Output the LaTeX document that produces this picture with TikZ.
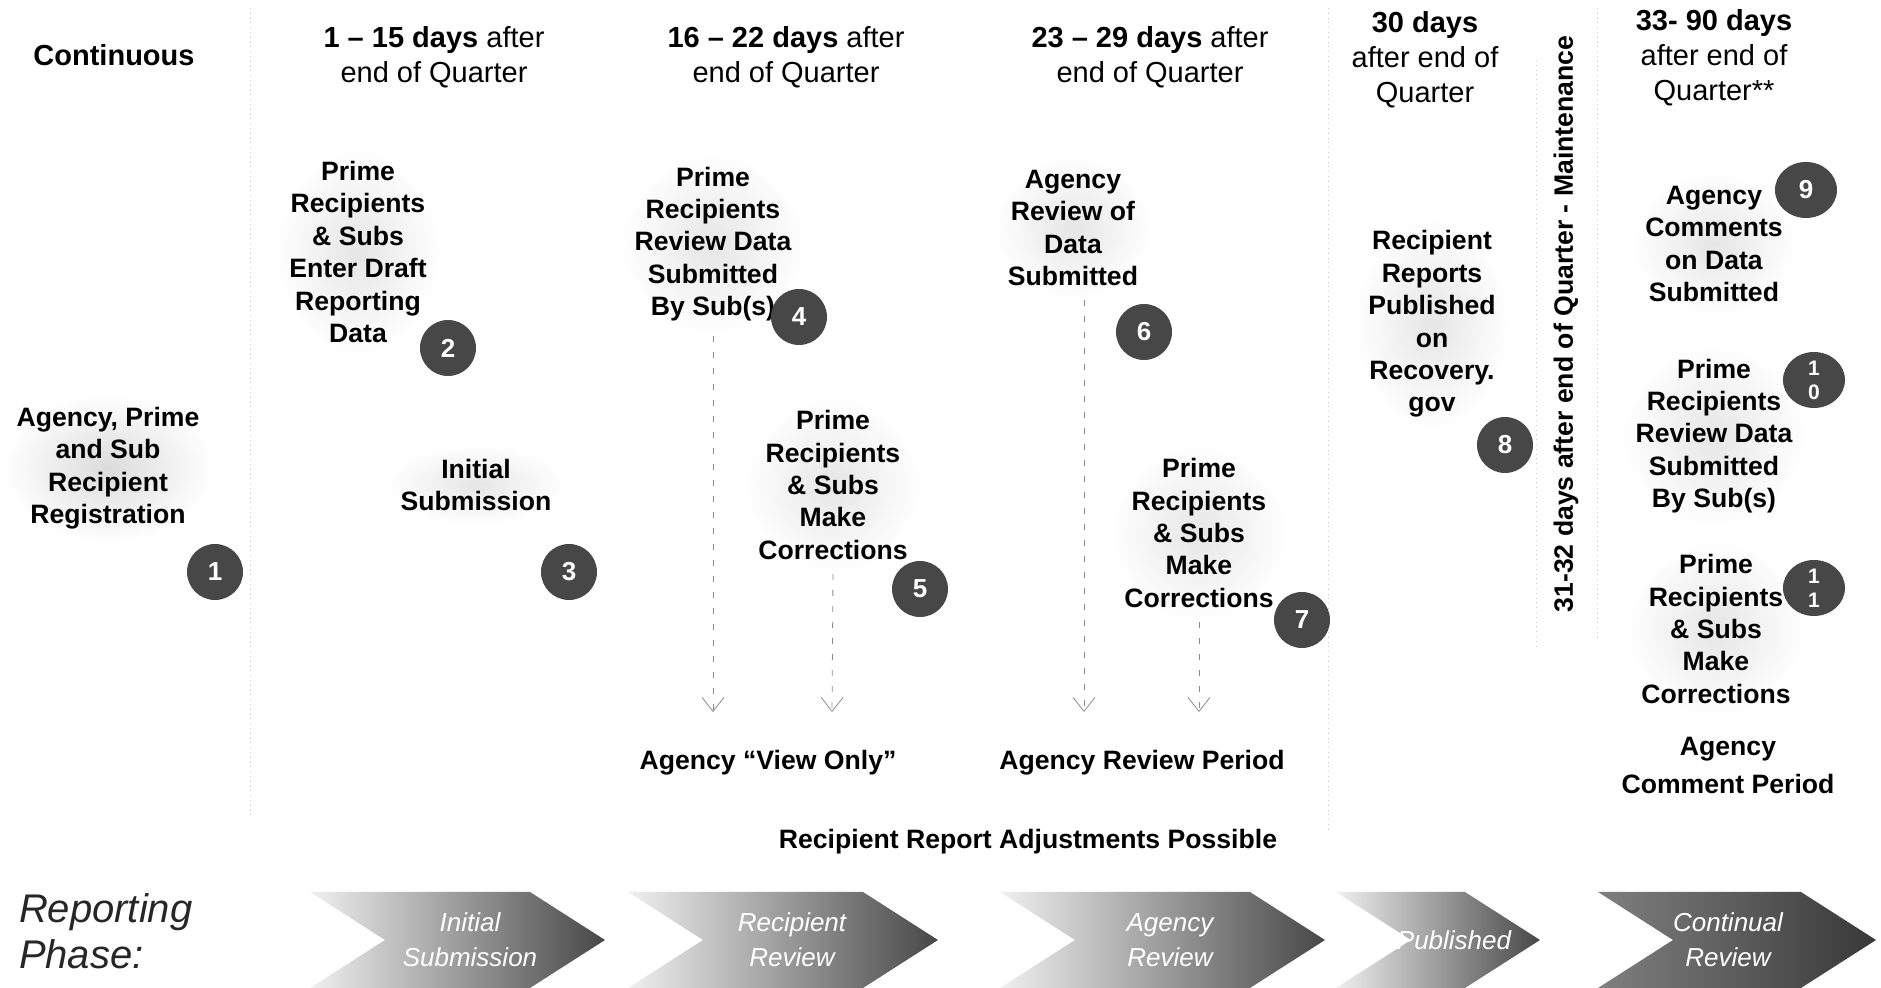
\documentclass[tikz,border=0pt]{standalone}
\usepackage{fontspec}
\setmainfont{Liberation Sans}
\usetikzlibrary{arrows.meta,shapes.geometric}

\begin{document}
\begin{tikzpicture}[x=0.5pt,y=-0.5pt,
  head/.style={align=center,font=\fontsize{14.5}{17.4}\selectfont},
  task/.style={align=center,inner sep=7pt,font=\fontsize{13.3}{16.2}\selectfont\bfseries,
    shade,inner color=black!10,outer color=white},
  num/.style={circle,fill=black!72,text=white,inner sep=0pt,minimum size=28pt,
    font=\fontsize{13}{13}\selectfont\bfseries},
  numwide/.style={num,ellipse,minimum width=31pt,minimum height=28pt,align=center,
    font=\fontsize{10.5}{12}\selectfont\bfseries},
  period/.style={align=center,font=\fontsize{13.3}{19}\selectfont\bfseries},
  flow/.style={draw=black!45,dash pattern=on 3pt off 5pt,
    -{Straight Barb[length=7pt,width=11pt]}},
  sep/.style={draw=black!22,dotted},
  phasetext/.style={align=center,text=white,font=\fontsize{13}{17.4}\selectfont\itshape}]
\useasboundingbox (0,0) rectangle (1881,988);

% column separators
\draw[sep] (250,8) -- (250,815);
\draw[sep] (1328,8) -- (1328,830);
\draw[sep] (1536,60) -- (1536,650);
\draw[sep] (1597,8) -- (1597,640);

% time headers
\node[head,font=\fontsize{14.5}{17.4}\selectfont\bfseries] (cont) at (114,55) {Continuous};
\node[head] (h1) at (434,57) {\textbf{1 – 15 days} after\\end of Quarter};
\node[head] (h2) at (786,57) {\textbf{16 – 22 days} after\\end of Quarter};
\node[head] (h3) at (1150,57) {\textbf{23 – 29 days} after\\end of Quarter};
\node[head] (h4) at (1425,60) {\textbf{30 days}\\after end of\\Quarter};
\node[head] (h5) at (1714,58) {\textbf{33- 90 days}\\after end of\\Quarter**};
\node[rotate=90,font=\fontsize{13.3}{16}\selectfont\bfseries] (maint) at (1566,324)
  {31-32 days after end of Quarter - Maintenance};

% steps
\node[task,inner color=black!14] (t1) at (108,468) {Agency, Prime\\and Sub\\Recipient\\Registration};
\node[task] (t2) at (358,252) {Prime\\Recipients\\\& Subs\\Enter Draft\\Reporting\\Data};
\node[task] (t3) at (476,485) {Initial\\Submission};
\node[task] (t4) at (713,244) {Prime\\Recipients\\Review Data\\Submitted\\By Sub(s)};
\node[task] (t5) at (833,485) {Prime\\Recipients\\\& Subs\\Make\\Corrections};
\node[task] (t6) at (1073,228) {Agency\\Review of\\Data\\Submitted};
\node[task] (t7) at (1199,533) {Prime\\Recipients\\\& Subs\\Make\\Corrections};
\node[task] (t8) at (1432,324) {Recipient\\Reports\\Published\\on\\Recovery.\\gov};
\node[task] (t9) at (1714,244) {Agency\\Comments\\on Data\\Submitted};
\node[task] (t10) at (1714,436) {Prime\\Recipients\\Review Data\\Submitted\\By Sub(s)};
\node[task] (t11) at (1716,629) {Prime\\Recipients\\\& Subs\\Make\\Corrections};

% step numbers
\node[num] (n1) at (215,572) {1};
\node[num] (n2) at (448,348) {2};
\node[num] (n3) at (569,572) {3};
\node[num] (n4) at (799,317) {4};
\node[num] (n5) at (920,589) {5};
\node[num] (n6) at (1144,332) {6};
\node[num] (n7) at (1302,620) {7};
\node[num] (n8) at (1505,445) {8};
\node[numwide,font=\fontsize{13}{13}\selectfont\bfseries] (n9) at (1806,190) {9};
\node[numwide] (n10) at (1814,380) {1\\0};
\node[numwide] (n11) at (1814,588) {1\\1};

% review periods
\coordinate (a4) at (713,712);
\coordinate (a5) at (832,712);
\coordinate (a6) at (1084,712);
\coordinate (a7) at (1199,712);
\draw[flow] (t4.south) -- (a4);
\draw[flow] (t5.south) -- (a5);
\draw[flow] (t6.south -| a6) -- (a6);
\draw[flow] (t7.south) -- (a7);

\node[period] (v1) at (768,763) {Agency “View Only”};
\node[period] (v2) at (1142,763) {Agency Review Period};
\node[period] (v3) at (1728,765) {Agency\\Comment Period};
\node[period] (adj) at (1028,842) {Recipient Report Adjustments Possible};

% reporting phases
\node[anchor=west,align=left,text=black!85,font=\fontsize{20}{23}\selectfont\itshape]
  (rp) at (12,931) {Reporting\\Phase:};
\foreach \a/\b in {310/605,628/938,1000/1325,1336/1540}
  \shade[left color=black!6,right color=black!72]
    (\a,892) -- ({\b-75},892) -- (\b,940) -- ({\b-75},988) -- (\a,988) -- ({\a+75},940) -- cycle;
\shade[left color=black!50,right color=black!78]
  (1598,892) -- (1801,892) -- (1876,940) -- (1801,988) -- (1598,988) -- (1673,940) -- cycle;

\node[phasetext] (p1) at (470,940) {Initial\\Submission};
\node[phasetext] (p2) at (792,940) {Recipient\\Review};
\node[phasetext] (p3) at (1170,940) {Agency\\Review};
\node[phasetext] (p4) at (1454,940) {Published};
\node[phasetext] (p5) at (1728,940) {Continual\\Review};
\end{tikzpicture}
\end{document}
